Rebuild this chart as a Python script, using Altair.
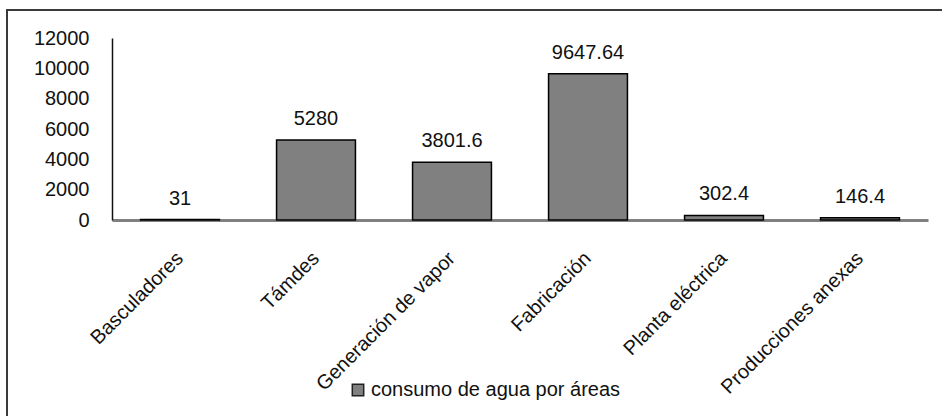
import altair as alt
import pandas as pd

categories = ["Basculadores", "Támdes", "Generación de vapor", "Fabricación",
              "Planta eléctrica", "Producciones anexas"]
values = [31, 5280, 3801.6, 9647.64, 302.4, 146.4]
value_labels = ["31", "5280", "3801.6", "9647.64", "302.4", "146.4"]
y_ticks = [0, 2000, 4000, 6000, 8000, 10000, 12000]
series_name = "consumo de agua por áreas"

df = pd.DataFrame({
    "area": categories,
    "valor": values,
    "etiqueta": value_labels,
    "serie": [series_name] * len(categories),
})

FONT = "Liberation Sans"

x_enc = alt.X(
    "area:N", sort=categories, title=None,
    scale=alt.Scale(paddingInner=0.42, paddingOuter=0.21),
    axis=alt.Axis(labelAngle=-45, labelAlign="right", labelBaseline="middle",
                  labelPadding=35, ticks=False, tickSize=0, labelLimit=400,
                  labelOverlap=False,
                  labelFontSize=20, labelColor="#111", labelFont=FONT,
                  domainColor="#808080", domainWidth=3, grid=False),
)
y_enc = alt.Y(
    "valor:Q", title=None,
    scale=alt.Scale(domain=[0, 12000], nice=False),
    axis=alt.Axis(values=y_ticks, format="d", ticks=False, tickSize=0,
                  labelPadding=23, labelOverlap=False, labelFlush=False,
                  labelFontSize=20, labelColor="#111", labelFont=FONT,
                  domainColor="#111", domainWidth=1.5, grid=False),
)

base = alt.Chart(df)

bars = base.mark_bar(stroke="black", strokeWidth=1.5).encode(
    x=x_enc,
    y=y_enc,
    color=alt.Color(
        "serie:N",
        scale=alt.Scale(range=["#808080"]),
        legend=alt.Legend(
            orient="none", legendX=236, legendY=342, title=None,
            symbolType="square", symbolSize=130, symbolStrokeColor="#222",
            symbolStrokeWidth=1.5, symbolFillColor="#808080",
            labelFontSize=20, labelFont=FONT, labelColor="#111",
            labelOffset=3, padding=0, labelLimit=500,
        ),
    ),
)

texts = base.mark_text(baseline="middle", dy=-21, fontSize=20, font=FONT,
                       color="#111").encode(
    x=x_enc,
    y=y_enc,
    text="etiqueta:N",
)

border = alt.Chart(alt.Data(values=[{"k": 1}])).mark_rect(
    fill="transparent", stroke="#3a3a3a", strokeWidth=2
).encode(
    x=alt.value(-105), x2=alt.value(900),
    y=alt.value(-28), y2=alt.value(420),
)

chart = alt.layer(border, bars, texts).properties(
    width=816, height=182,
    autosize=alt.AutoSizeParams(type="none"),
    padding={"left": 112, "top": 38, "right": 14, "bottom": 196},
    background="white",
).configure_view(strokeWidth=0).configure_axis(labelOverlap=False)

chart.save("out.html", embed_options={"renderer": "svg", "actions": False})
